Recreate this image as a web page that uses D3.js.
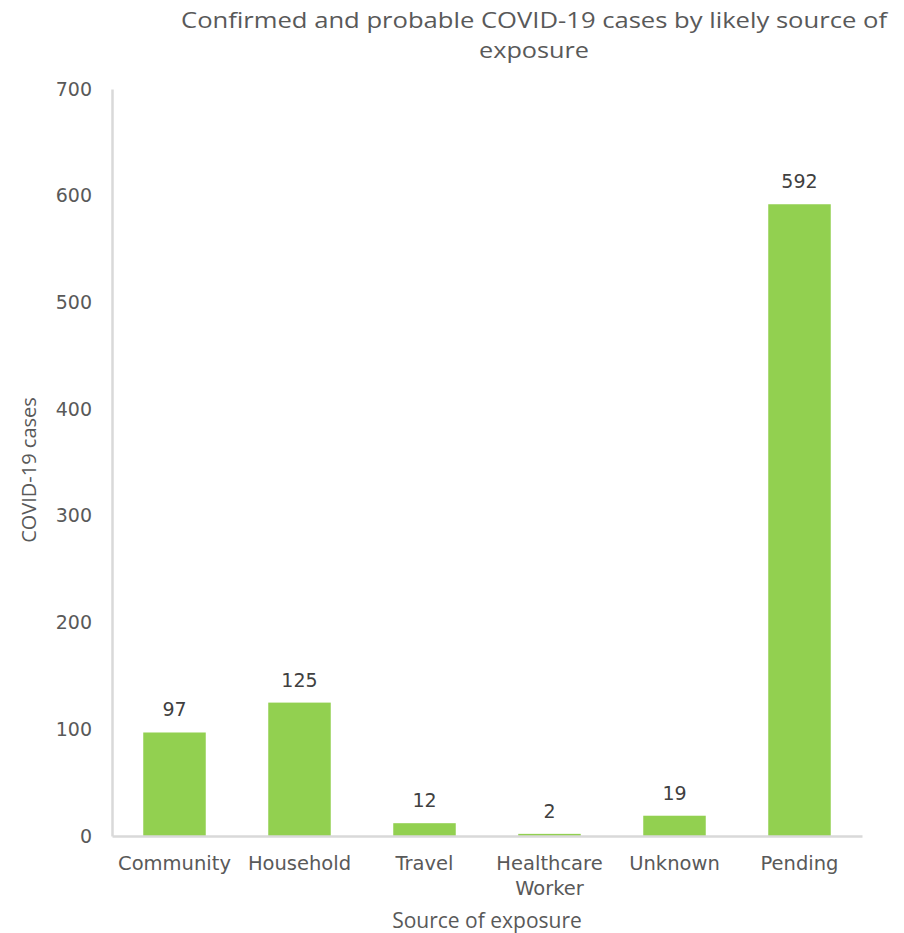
<!DOCTYPE html>
<html>
<head>
<meta charset="utf-8">
<title>COVID-19 cases by source of exposure</title>
<script src="https://d3js.org/d3.v7.min.js"></script>
<style>
  body { margin: 0; background: #fff; }
</style>
</head>
<body>
<svg id="chart" width="904" height="933"></svg>
<script>
// data
const categories = ["Community", "Household", "Travel", "Healthcare Worker", "Unknown", "Pending"];
const cases = [97, 125, 12, 2, 19, 592];
const yTicks = [0, 100, 200, 300, 400, 500, 600, 700];
const titleLines = ["Confirmed and probable COVID-19 cases by likely source of", "exposure"];
const titleWidths = [706, 110];

const svg = d3.select("#chart");
const plotLeft = 112, plotRight = 862, plotTop = 89, plotBottom = 836;
const tickFont = "'DejaVu Sans', Verdana, sans-serif";
const titleFont = "'Open Sans', sans-serif";

const x = d3.scaleBand().domain(categories).range([plotLeft, plotRight])
  .paddingInner(0.5).paddingOuter(0.25);
const y = d3.scaleLinear().domain([0, 700]).range([plotBottom, plotTop]);

// title (two separate lines, stretched to the reference width)
svg.append("g").selectAll("text")
  .data(titleLines)
  .join("text")
  .attr("x", 534)
  .attr("y", (d, i) => 28 + i * 30)
  .attr("text-anchor", "middle")
  .style("font-family", titleFont)
  .style("font-size", "22px")
  .attr("fill", "#595959")
  .attr("textLength", (d, i) => titleWidths[i])
  .attr("lengthAdjust", "spacingAndGlyphs")
  .text(d => d);

// bars
svg.append("g").selectAll("rect")
  .data(cases)
  .join("rect")
  .attr("x", (d, i) => x(categories[i]))
  .attr("y", d => y(d))
  .attr("width", x.bandwidth())
  .attr("height", d => y(0) - y(d))
  .attr("fill", "#92d050");

// value labels
svg.append("g").selectAll("text")
  .data(cases)
  .join("text")
  .attr("x", (d, i) => x(categories[i]) + x.bandwidth() / 2)
  .attr("y", d => y(d) - 16)
  .attr("text-anchor", "middle")
  .style("font-family", tickFont)
  .style("font-size", "19px")
  .attr("fill", "#404040")
  .text(d => d);

// y axis
const yAxis = svg.append("g")
  .attr("transform", "translate(" + plotLeft + ",0)")
  .call(d3.axisLeft(y).tickValues(yTicks).tickSize(0).tickPadding(20));
yAxis.select(".domain").attr("stroke", "#d9d9d9").attr("stroke-width", 2.5);
yAxis.selectAll(".tick text")
  .style("font-family", tickFont)
  .style("font-size", "19px")
  .attr("fill", "#595959");

// x axis
const xAxis = svg.append("g")
  .attr("transform", "translate(0," + plotBottom + ")")
  .call(d3.axisBottom(x).tickSize(0).tickPadding(0));
xAxis.select(".domain").attr("stroke", "#d9d9d9").attr("stroke-width", 2.5);
xAxis.selectAll(".tick text")
  .style("font-family", tickFont)
  .style("font-size", "19.5px")
  .attr("fill", "#595959")
  .attr("dy", null)
  .each(function(d) {
    const t = d3.select(this).text(null);
    const words = d === "Healthcare Worker" ? ["Healthcare", "Worker"] : [d];
    words.forEach((w, i) => {
      t.append("tspan").attr("x", 0).attr("y", 34 + i * 25).text(w);
    });
  });

// axis titles
svg.append("text")
  .attr("x", 487).attr("y", 928)
  .attr("text-anchor", "middle")
  .style("font-family", titleFont)
  .style("font-size", "21px")
  .attr("fill", "#595959")
  .text("Source of exposure");

svg.append("text")
  .attr("transform", "translate(36,470) rotate(-90)")
  .attr("text-anchor", "middle")
  .style("font-family", titleFont)
  .style("font-size", "20px")
  .attr("fill", "#595959")
  .text("COVID-19 cases");
</script>
</body>
</html>
